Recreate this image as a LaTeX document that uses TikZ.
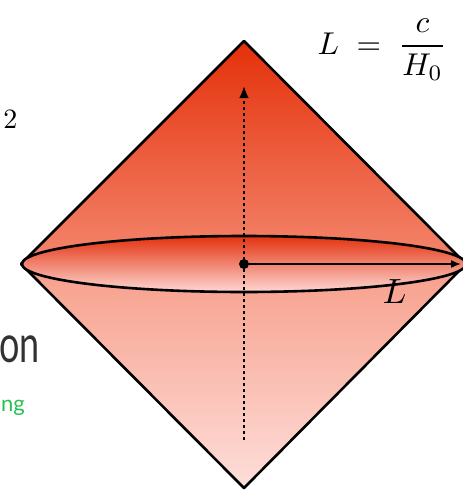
\documentclass[tikz,border=0pt]{standalone}
\usepackage{fontspec}
\newfontfamily\slidesans{Lato}
\usetikzlibrary{arrows.meta}
\definecolor{conetop}{RGB}{228,48,10}
\definecolor{conemid}{RGB}{244,135,110}
\definecolor{conelow}{RGB}{247,158,138}
\definecolor{conebot}{RGB}{253,222,218}
\definecolor{disctop}{RGB}{228,50,15}
\definecolor{discbot}{RGB}{253,215,210}
\definecolor{slidegray}{RGB}{50,50,50}
\definecolor{slidegreen}{RGB}{40,190,80}
\tikzset{
  edge/.style={line width=2.6pt, line join=round},
  timeaxis/.style={line width=2.6pt, dash pattern=on 2.6pt off 3.4pt, -{Latex[length=12pt,width=10pt]}},
  radius arrow/.style={line width=1.6pt, -{Latex[length=10pt,width=8pt]}},
  bigmath/.style={inner sep=0pt, font=\fontsize{10}{12}\selectfont},
}
\begin{document}
\begin{tikzpicture}[x=1pt,y=-1pt]
    \useasboundingbox (0,0) rectangle (463,490);
    % corners of the light cone
    \coordinate (top) at (244,41);
    \coordinate (left) at (21,264);
    \coordinate (right) at (466,264);
    \coordinate (bot) at (244,488);
    \coordinate (centre) at (244,264);
    \coordinate (past) at (244,440);
    \coordinate (future) at (244,86);
    \coordinate (edge) at (461,264);

    % cone halves
    \shade[top color=conetop, bottom color=conemid] (top) -- (right) -- (left) -- cycle;
    \shade[top color=conelow, bottom color=conebot] (left) -- (right) -- (bot) -- cycle;
    \draw[edge] (top) -- (right) -- (bot) -- (left) -- cycle;

    % horizon disc
    \shade[top color=disctop, bottom color=discbot] (centre) ellipse [x radius=222, y radius=28];
    \draw[line width=2.6pt] (centre) ellipse [x radius=222, y radius=28];

    % time direction and radius
    \draw[timeaxis] (past) -- (future);
    \draw[radius arrow] (centre) -- (edge);
    \fill (centre) circle (5pt);

    % labels
    \node[bigmath, anchor=base west, scale=3.15] (hubble) at (317,54) {$L \;=\; \displaystyle\frac{c}{H_0}$};
    \node[bigmath, anchor=base west, scale=3.5] (radius) at (382,303) {$L$};
    \node[bigmath, anchor=base east, scale=2.8] (power) at (18,128) {2};
    \node[inner sep=0pt, anchor=base east, text=slidegray, xscale=0.9, yscale=1.3, font=\slidesans\fontsize{40}{44}\selectfont] (word) at (40,362) {on};
    \node[inner sep=0pt, anchor=base east, text=slidegreen, font=\slidesans\fontsize{22}{26}\selectfont] (note) at (25,411) {ng};
\end{tikzpicture}
\end{document}
